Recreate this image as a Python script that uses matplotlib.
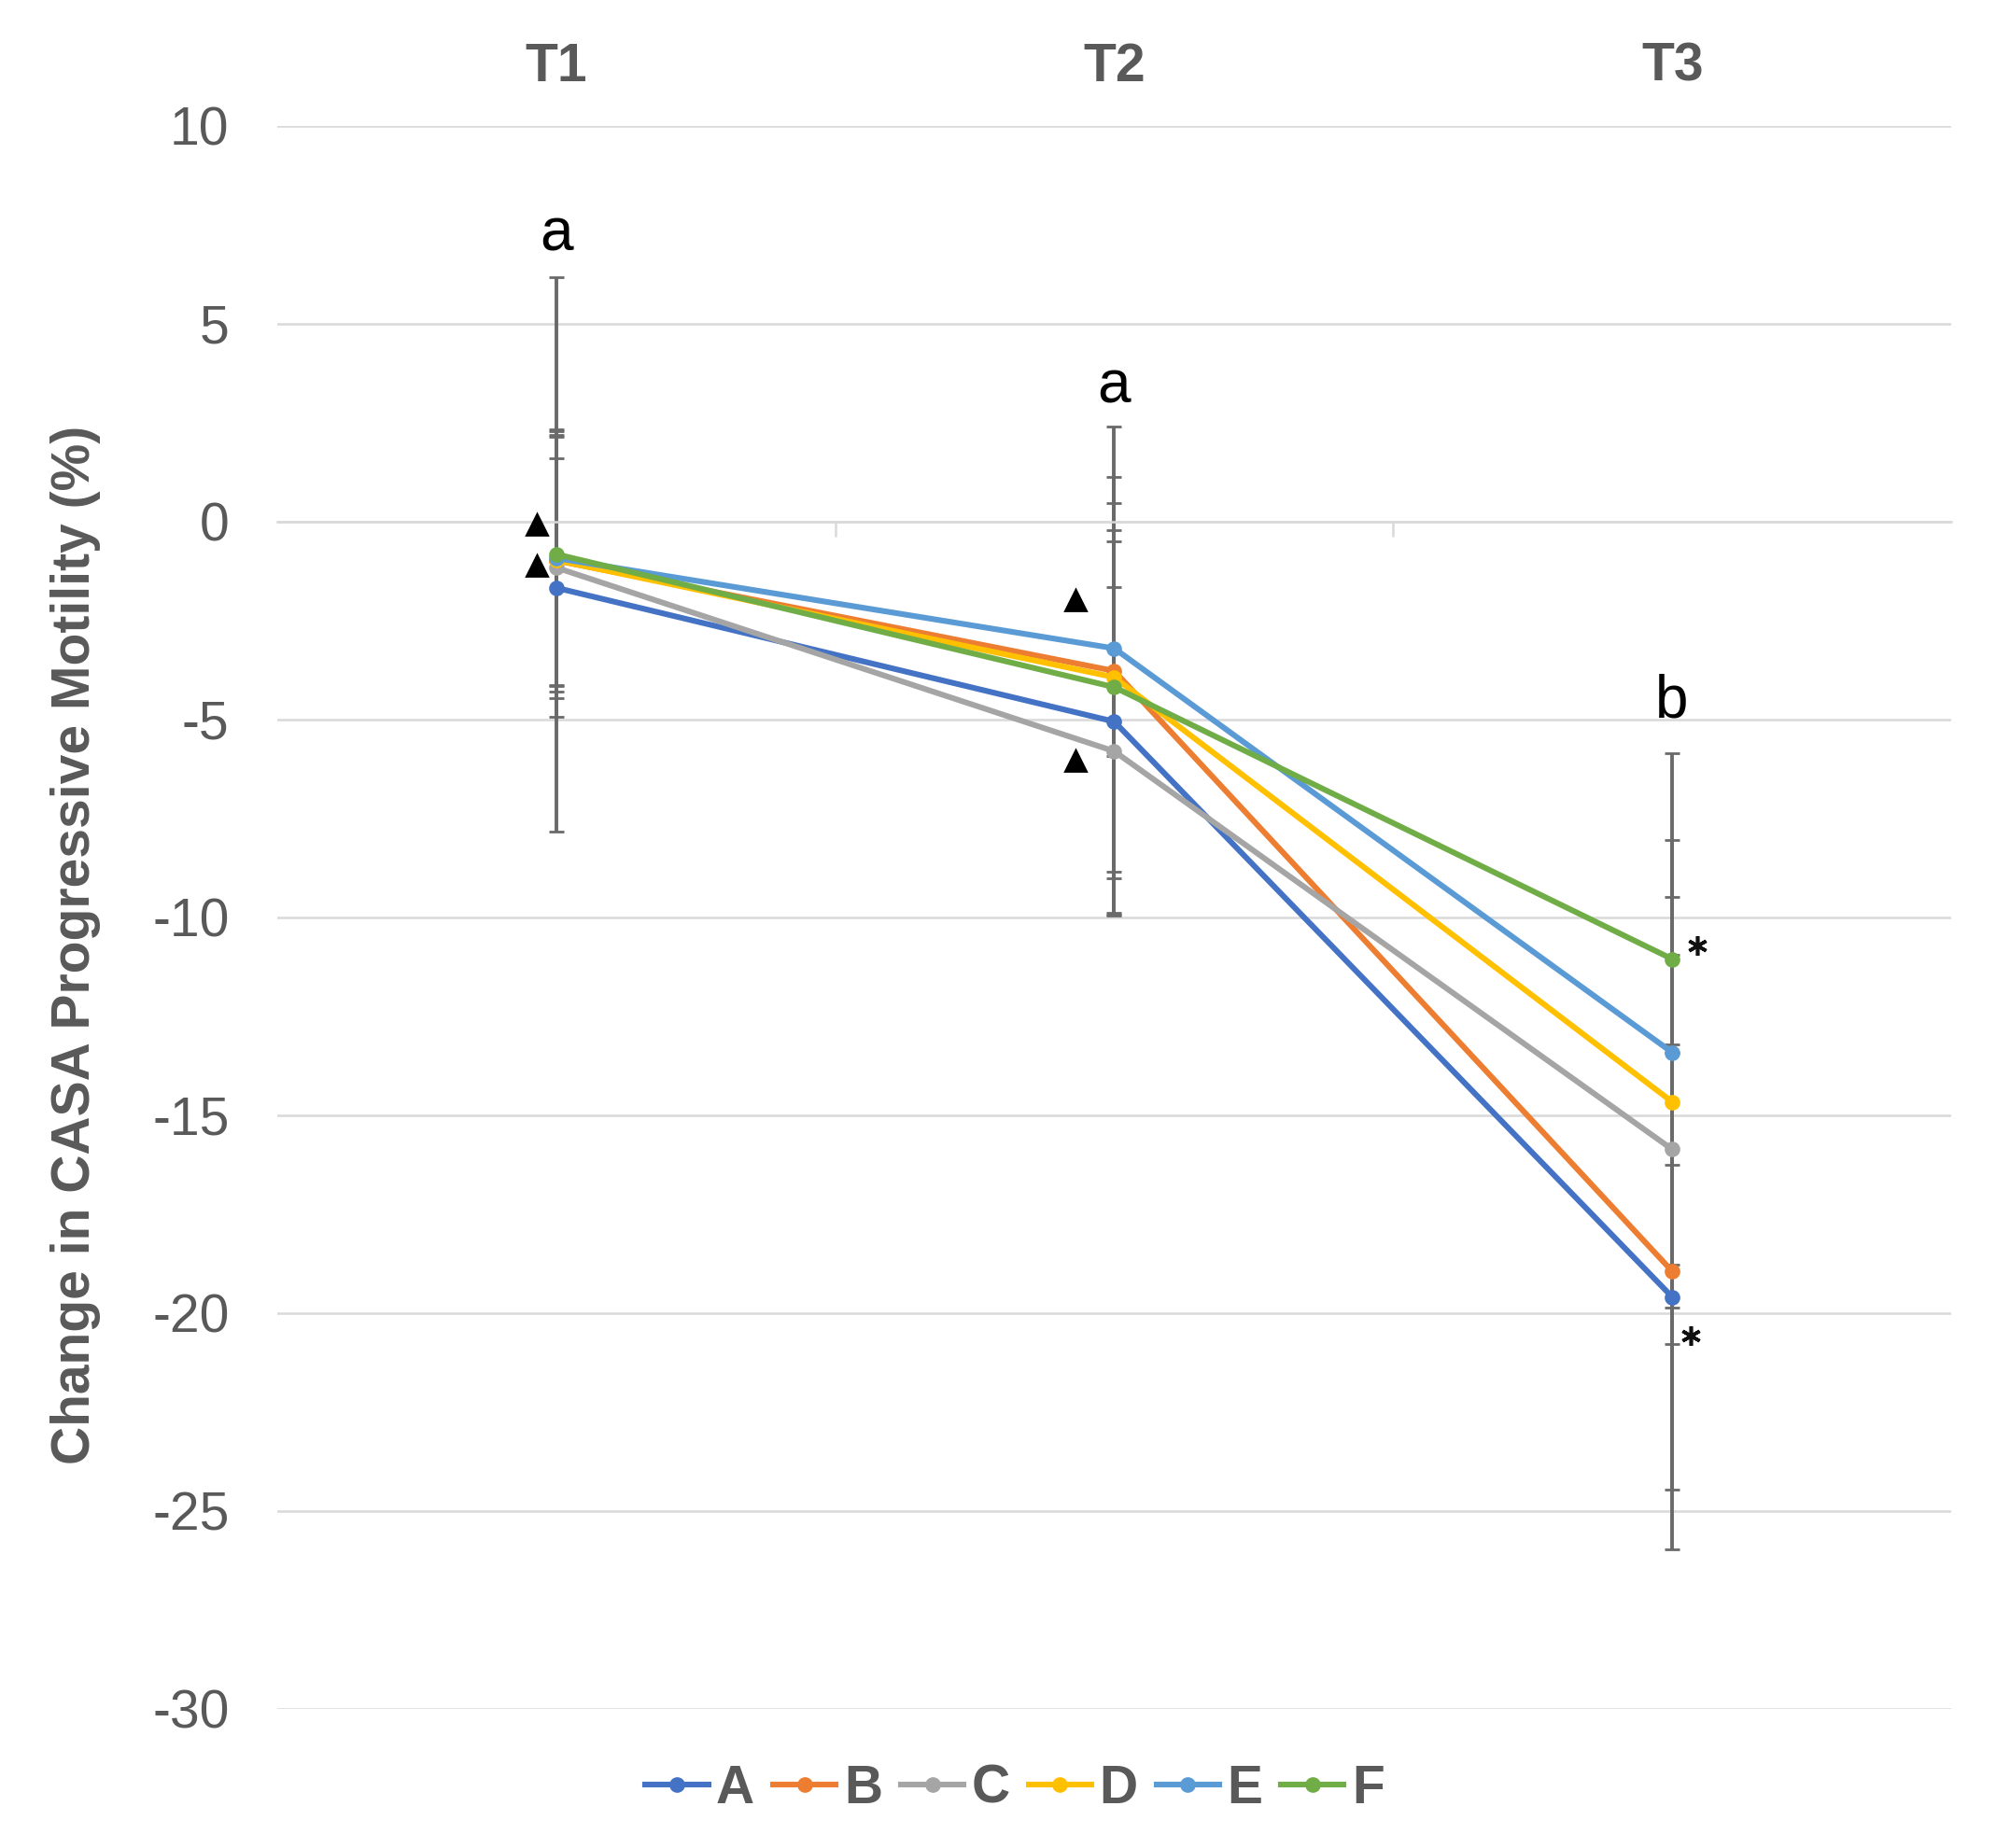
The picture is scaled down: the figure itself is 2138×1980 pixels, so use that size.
import matplotlib
matplotlib.use('Agg')
import matplotlib.pyplot as plt
from matplotlib.lines import Line2D
import numpy as np

plt.rcParams['font.family'] = ['Liberation Sans', 'DejaVu Sans']

# ---------------- data ----------------
timepoints = ['T1', 'T2', 'T3']
groups = ['A', 'B', 'C', 'D', 'E', 'F']
colors = ['#4472C4', '#ED7D31', '#A5A5A5', '#FFC000', '#5B9BD5', '#70AD47']

mean_A = [-1.67, -5.05, -19.59]
mean_B = [-0.98, -3.77, -18.94]
mean_C = [-1.16, -5.80, -15.86]
mean_D = [-0.97, -3.93, -14.66]
mean_E = [-0.92, -3.20, -13.41]
mean_F = [-0.82, -4.18, -11.05]

err_A = [3.27, 4.84, 6.38]
err_B = [3.31, 6.17, 5.52]
err_C = [3.30, 4.16, 4.92]
err_D = [3.17, 5.07, 5.19]
err_E = [3.20, 2.71, 5.37]
err_F = [7.00, 4.66, 5.19]

# significance letters above each time point
letters = ['a', 'a', 'b']
letter_y = [6.86, 3.0, -4.95]

# triangle annotations (category position, value)
triangle_x = [0.965, 0.965, 1.931, 1.931]
triangle_y = [-0.07, -1.10, -1.98, -6.04]

# asterisk annotations
star_x = [3.045, 3.033]
star_y = [-10.70, -20.57]

yticks = [10, 5, 0, -5, -10, -15, -20, -25, -30]

means = [mean_A, mean_B, mean_C, mean_D, mean_E, mean_F]
errs = [err_A, err_B, err_C, err_D, err_E, err_F]

# ---------------- figure ----------------
W, H, DPI = 2138, 1980, 200
fig = plt.figure(figsize=(W / DPI, H / DPI), dpi=DPI)
fig.patch.set_facecolor('white')

ax_left, ax_right = 297 / W, 2090 / W
ax_bottom, ax_top = 1 - 1831 / H, 1 - 135 / H
ax = fig.add_axes([ax_left, ax_bottom, ax_right - ax_left, ax_top - ax_bottom])

x = np.arange(1, len(timepoints) + 1)
grey = '#595959'

for m, e in zip(means, errs):
    _, caps, _ = ax.errorbar(x, m, yerr=e, fmt='none', ecolor='#6a6a6a', elinewidth=1.4,
                             capsize=2.8, capthick=1.0, zorder=2)
    for cl in caps:
        cl.set_color('#1e1e1e')

for g, m, c in zip(groups, means, colors):
    ax.plot(x, m, color=c, lw=2.2, marker='o', ms=5, zorder=3, label=g)

for xi, lt, ly in zip(x, letters, letter_y):
    ax.text(xi, ly, lt, ha='center', va='baseline', fontsize=23, color='black')

ax.plot(triangle_x, triangle_y, ls='none', marker='^', ms=8, color='black', zorder=4)
ax.plot(star_x, star_y, ls='none', marker=(6, 2, 0), ms=7.5, mew=1.3, color='#111111', zorder=4)

ax.set_xlim(0.5, 3.5)
ax.set_ylim(-30, 10)
ax.set_yticks(yticks)
ax.set_yticklabels([str(v) for v in yticks])
ax.yaxis.grid(True, color='#d9d9d9', lw=0.9)
ax.set_axisbelow(True)
ax.tick_params(axis='y', length=0, pad=18.5, labelsize=20.5, labelcolor=grey)

for s in ['left', 'right', 'top']:
    ax.spines[s].set_visible(False)
ax.spines['bottom'].set_position(('data', 0))
ax.spines['bottom'].set_color('#d9d9d9')
ax.spines['bottom'].set_linewidth(0.9)
ax.set_xticks([1.5, 2.5])
ax.set_xticklabels(['', ''])
ax.tick_params(axis='x', direction='out', length=5.8, width=0.9, color='#d9d9d9')

sec = ax.secondary_xaxis('top')
sec.set_xticks(list(x))
sec.set_xticklabels(timepoints, fontweight='bold', fontsize=20.5, color=grey)
sec.tick_params(length=0, pad=13)
sec.spines['top'].set_visible(False)

fig.text(81 / W, 1 - 1012 / H, 'Change in CASA Progressive Motility (%)', rotation=90,
         ha='center', va='center', fontsize=20.5, fontweight='bold', color=grey)

handles = [Line2D([0], [0], color=c, lw=2.2, marker='o', ms=5) for c in colors]
leg = fig.legend(handles, groups, ncol=6, loc='center',
                 bbox_to_anchor=(1087 / W, 1 - 1917 / H), frameon=False,
                 prop={'weight': 'bold', 'size': 20.5}, labelcolor=grey,
                 handlelength=1.18, handletextpad=0.15, columnspacing=0.35)

fig.savefig('out.png', dpi=DPI, facecolor='white')
